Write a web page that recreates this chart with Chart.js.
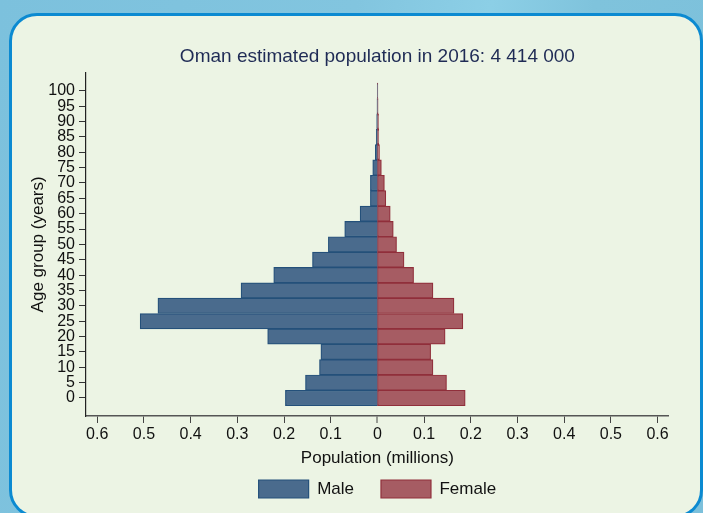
<!DOCTYPE html>
<html>
<head>
<meta charset="utf-8">
<script src="https://cdn.jsdelivr.net/npm/chart.js@4/dist/chart.umd.min.js"></script>
<style>
  html, body { margin:0; padding:0; width:703px; height:513px; overflow:hidden; }
  body { background: linear-gradient(100deg, #7cc1dd 0%, #82c5df 45%, #8ccfe6 62%, #7fc3dc 75%, #7cc0db 100%); position:relative; }
  #panel { position:absolute; left:9px; top:13px; width:694px; height:505px; box-sizing:border-box;
           border:3px solid #0b8ad1; border-radius:28px; background:#ecf4e4; }
  #wrap { position:absolute; left:0; top:0; width:703px; height:513px; }
</style>
</head>
<body>
<div id="panel"></div>
<div id="wrap"><canvas id="c" width="703" height="513"></canvas></div>
<script>
// ---- data (millions) ----
const ageGroups = [0,5,10,15,20,25,30,35,40,45,50,55,60,65,70,75,80,85,90,95,100];
const male   = [0.197,0.154,0.124,0.121,0.235,0.508,0.470,0.292,0.222,0.139,0.105,0.070,0.037,0.015,0.015,0.010,0.0045,0.0025,0.0015,0.0008,0.0004];
const female = [0.188,0.148,0.119,0.114,0.145,0.183,0.164,0.119,0.0775,0.057,0.041,0.034,0.0275,0.018,0.015,0.0085,0.0045,0.003,0.0025,0.0015,0.001];
const xTickValues = [-0.6,-0.5,-0.4,-0.3,-0.2,-0.1,0,0.1,0.2,0.3,0.4,0.5,0.6];
const xTickLabels = ['0.6','0.5','0.4','0.3','0.2','0.1','0','0.1','0.2','0.3','0.4','0.5','0.6'];
const yTickValues = ageGroups;
const titleText = 'Oman estimated population in 2016: 4 414 000';

const FONT = "'Liberation Sans', Arial, Helvetica, sans-serif";
Chart.defaults.font.family = FONT;
Chart.defaults.color = '#111';

new Chart(document.getElementById('c'), {
  type: 'bar',
  data: {
    datasets: [
      {
        label: 'Male',
        data: ageGroups.map((a, i) => ({ x: -male[i], y: a })),
        backgroundColor: '#4a6b8d',
        borderColor: '#24507a',
        borderWidth: 1.2,
        borderSkipped: 'start'
      },
      {
        label: 'Female',
        data: ageGroups.map((a, i) => ({ x: female[i], y: a })),
        backgroundColor: '#a65c63',
        borderColor: '#902f3b',
        borderWidth: 1.2,
        borderSkipped: false
      }
    ]
  },
  options: {
    indexAxis: 'y',
    responsive: false,
    animation: false,
    layout: { padding: { left: 0, right: 34.2, top: 0, bottom: 5 } },
    datasets: { bar: { barPercentage: 1, categoryPercentage: 1 } },
    scales: {
      x: {
        type: 'linear',
        stacked: true,
        min: -0.624, max: 0.624,
        afterBuildTicks: s => { s.ticks = xTickValues.map(v => ({ value: v })); },
        ticks: {
          autoSkip: false, maxRotation: 0, padding: 1.5,
          font: { size: 16 }, color: '#111',
          callback: (v, i) => xTickLabels[i]
        },
        grid: {
          drawOnChartArea: false, drawTicks: true, tickLength: 7,
          color: '#444', tickColor: '#444', tickWidth: 1,
          lineWidth: c => (c.tick && c.tick.value === 0 ? 0 : 1)
        },
        border: { display: true, color: '#555', width: 1.5 },
        title: { display: true, text: 'Population (millions)', font: { size: 17 }, color: '#111',
                 padding: { top: 0, bottom: -15.2 } },
        afterFit: s => { s.height = 37; }
      },
      y: {
        type: 'linear',
        stacked: true,
        offset: false,
        min: -5.86, max: 105.9,
        afterBuildTicks: s => { s.ticks = yTickValues.map(v => ({ value: v })); },
        ticks: { autoSkip: false, padding: 4, font: { size: 16 }, color: '#111',
                 callback: v => String(v) },
        grid: { offset: false, drawOnChartArea: false, drawTicks: true, tickLength: 7, color: '#333', lineWidth: 1 },
        border: { display: true, color: '#222', width: 1.2 },
        title: { display: true, text: 'Age group (years)', font: { size: 17 }, color: '#111',
                 padding: { top: 27.8, bottom: 0 } },
        afterFit: s => { s.width = 86; }
      }
    },
    plugins: {
      title: {
        display: true, text: titleText, fullSize: false,
        font: { size: 19, weight: 'normal' }, color: '#1f2b55',
        padding: { top: 45.2, bottom: 4.7 }
      },
      legend: {
        display: true, position: 'bottom', fullSize: false,
        labels: { boxWidth: 50, boxHeight: 18, padding: 27, font: { size: 17 }, color: '#111' }
      },
      tooltip: { enabled: false }
    }
  }
});
</script>
</body>
</html>
